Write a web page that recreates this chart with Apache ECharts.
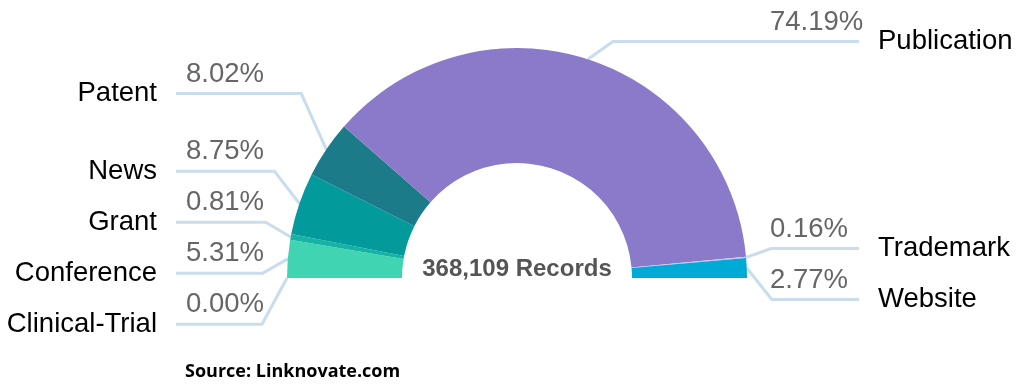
<!DOCTYPE html>
<html>
<head>
<meta charset="utf-8">
<script src="https://cdn.jsdelivr.net/npm/echarts@6/dist/echarts.min.js"></script>
<style>
  html, body { margin: 0; padding: 0; background: #ffffff; }
  #chart { width: 1024px; height: 390px; }
</style>
</head>
<body>
<div id="chart"></div>
<script>
// ---- data ----
const categories = ['Clinical-Trial', 'Conference', 'Grant', 'News', 'Patent', 'Publication', 'Trademark', 'Website'];
const shares = [0.00, 5.31, 0.81, 8.75, 8.02, 74.19, 0.16, 2.77];   // percent of records
const totalRecords = 368109;
const sourceText = 'Source: Linknovate.com';

// ---- styling ----
const sliceColors = ['#5fe0c2', '#40d4b2', '#14b3a5', '#039a9c', '#1b7b88', '#8b79c9', '#d4bef7', '#00aad6'];
const FONT = '"Liberation Sans", Arial, Helvetica, sans-serif';
const VIEW_TOP = 16;               // label layout area starts here
const CX = 517, CY = 278;          // donut centre in page pixels
const LEFT_LINE_END = 176, RIGHT_LINE_END = 859;
const LEFT_PCT_X = 186, RIGHT_PCT_X = 770;
const NAME_GAP = 19, PCT_RAISE = 19.5, ELBOW = 25;

const chart = echarts.init(document.getElementById('chart'), null, { renderer: 'canvas' });

const pieData = categories.map((name, i) => ({
  name: name,
  value: shares[i],
  itemStyle: { color: sliceColors[i] }
}));

function sideOf(params) {
  const r = params.labelRect;
  return (r.x + r.width / 2) < CX ? -1 : 1;
}

const baseSeries = {
  type: 'pie',
  top: VIEW_TOP,
  left: 0,
  center: [CX, CY - VIEW_TOP],
  radius: [115, 230],
  startAngle: 180,
  endAngle: 0,
  clockwise: true,
  avoidLabelOverlap: true,
  minShowLabelAngle: 0,
  emphasis: { disabled: true },
  animation: false
};

const option = {
  animation: false,
  graphic: [{
    type: 'text',
    x: CX,
    y: CY - 9,
    style: {
      text: totalRecords.toLocaleString('en-US') + ' Records',
      align: 'center',
      verticalAlign: 'middle',
      font: 'bold 24px "Liberation Sans", Arial, sans-serif',
      fill: '#555555'
    }
  }, {
    type: 'text',
    left: 185,
    top: 363,
    style: { text: sourceText, font: 'bold 18px "Open Sans", sans-serif', fill: '#000000' }
  }],
  series: [
    Object.assign({}, baseSeries, {
      name: 'names',
      data: pieData,
      label: {
        show: true,
        position: 'outside',
        formatter: '{b}',
        fontFamily: FONT,
        fontSize: 27.5,
        lineHeight: 49,
        color: '#000000'
      },
      labelLine: {
        show: true,
        length: 100,
        length2: 8,
        lineStyle: { color: '#c9ddec', width: 3 }
      },
      labelLayout: function (params) {
        const dir = sideOf(params);
        const r = params.labelRect;
        const yMid = r.y + r.height / 2;
        const pts = params.labelLinePoints;
        const p0 = pts ? pts[0] : [CX, CY];
        const end = dir < 0 ? LEFT_LINE_END : RIGHT_LINE_END;
        return {
          x: end + dir * NAME_GAP,
          y: yMid,
          align: dir < 0 ? 'right' : 'left',
          verticalAlign: 'middle',
          labelLinePoints: [p0, [p0[0] + dir * ELBOW, yMid], [end, yMid]]
        };
      }
    }),
    Object.assign({}, baseSeries, {
      name: 'percents',
      silent: true,
      data: pieData.map(d => ({ name: d.name, value: d.value, itemStyle: { color: 'rgba(0,0,0,0)' } })),
      label: {
        show: true,
        position: 'outside',
        formatter: p => p.value.toFixed(2) + '%',
        fontFamily: FONT,
        fontSize: 27.5,
        lineHeight: 49,
        color: '#666666'
      },
      labelLine: { show: false, length: 100, length2: 8 },
      labelLayout: function (params) {
        const dir = sideOf(params);
        const r = params.labelRect;
        const yMid = r.y + r.height / 2;
        return {
          x: dir < 0 ? LEFT_PCT_X : RIGHT_PCT_X,
          y: yMid - PCT_RAISE,
          align: 'left',
          verticalAlign: 'middle'
        };
      }
    })
  ]
};

chart.setOption(option);
</script>
</body>
</html>
